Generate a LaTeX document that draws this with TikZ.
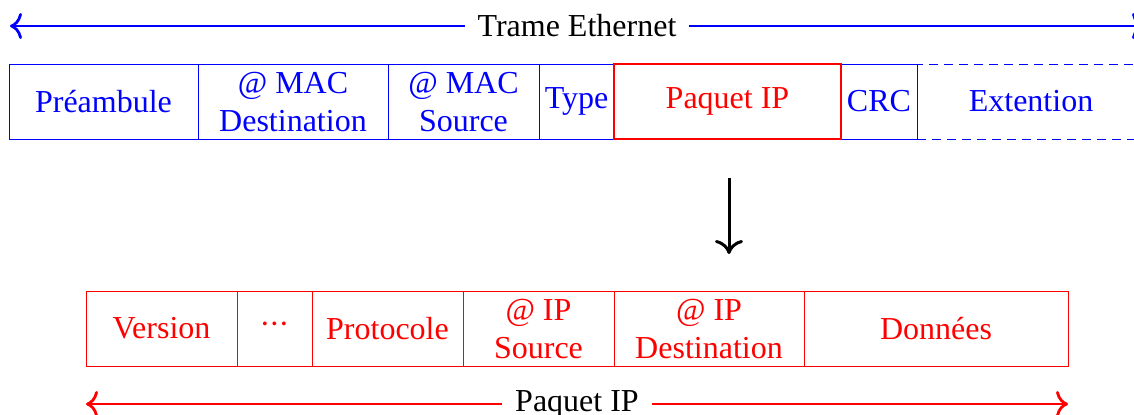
\documentclass[tikz,border=0pt]{standalone}
\usepackage{fontspec}
\setmainfont{Liberation Serif}
\usetikzlibrary{arrows.meta}
\definecolor{eblue}{RGB}{0,0,255}
\definecolor{ered}{RGB}{255,0,0}
\tikzset{
  field/.style={draw, rectangle, inner sep=0pt, minimum height=37.5pt, align=center,
    font=\fontsize{16}{19}\selectfont},
  ethfield/.style={field, draw=eblue, text=eblue, line width=0.5pt},
  ipbox/.style={field, draw=ered, text=ered, line width=1pt},
  ipfield/.style={field, draw=ered, text=ered, line width=0.5pt},
  extfield/.style={field, draw=eblue, text=eblue, line width=0.5pt, dash pattern=on 4.5pt off 3pt},
  span/.style={line width=1.4pt, {To[length=6pt,width=13pt]}-{To[length=6pt,width=13pt]}},
  spanlabel/.style={fill=white, text=black, inner sep=6.5pt, font=\fontsize{16}{19}\selectfont},
  down/.style={line width=1.5pt, -{To[length=7pt,width=14pt]}}
}
\begin{document}
\begin{tikzpicture}[x=0.5pt,y=-0.5pt]
\useasboundingbox (0,0) rectangle (1134,414);
\clip (0,0) rectangle (1134,414);
% top span arrow
\coordinate (tl) at (10,26);
\coordinate (tr) at (1144,26);
\draw[eblue, span] (tl) -- (tr) node[midway, spanlabel] (tlab) {Trame Ethernet};
% Ethernet frame
\node[extfield, minimum width=114pt] (ext) at (1031,101.5) {Extention};
\node[ethfield, minimum width=94.5pt] (pre) at (103.5,101.5) {Préambule};
\node[ethfield, minimum width=95pt] (macd) at (293,101.5) {@ MAC\\Destination};
\node[ethfield, minimum width=75.5pt] (macs) at (463.5,101.5) {@ MAC\\Source};
\node[ethfield, minimum width=37.5pt] (type) at (576.5,101.5) {Type};
\node[ethfield, minimum width=38pt] (crc) at (879,101.5) {CRC};
\node[ipbox, minimum width=113.5pt] (ip) at (727.5,101.5) {Paquet IP};
% down arrow
\coordinate (d1) at (729,178);
\coordinate (d2) at (729,254);
\draw[down] (d1) -- (d2);
% IP packet
\node[ipfield, minimum width=75.5pt] (ver) at (161.5,328.5) {Version};
\node[ipfield, minimum width=37.5pt] (dots) at (274.5,328.5) {\textperiodcentered\kern-0.6pt\textperiodcentered\kern-0.6pt\textperiodcentered};
\node[ipfield, minimum width=75.5pt] (proto) at (387.5,328.5) {Protocole};
\node[ipfield, minimum width=75.5pt] (ips) at (538.5,328.5) {@ IP\\Source};
\node[ipfield, minimum width=95pt] (ipd) at (709,328.5) {@ IP\\Destination};
\node[ipfield, minimum width=132pt] (data) at (936,328.5) {Données};
% bottom span arrow
\coordinate (bl) at (86,404);
\coordinate (br) at (1068,404);
\draw[ered, span] (bl) -- (br) node[midway, spanlabel] (blab) {Paquet IP};
\end{tikzpicture}
\end{document}
